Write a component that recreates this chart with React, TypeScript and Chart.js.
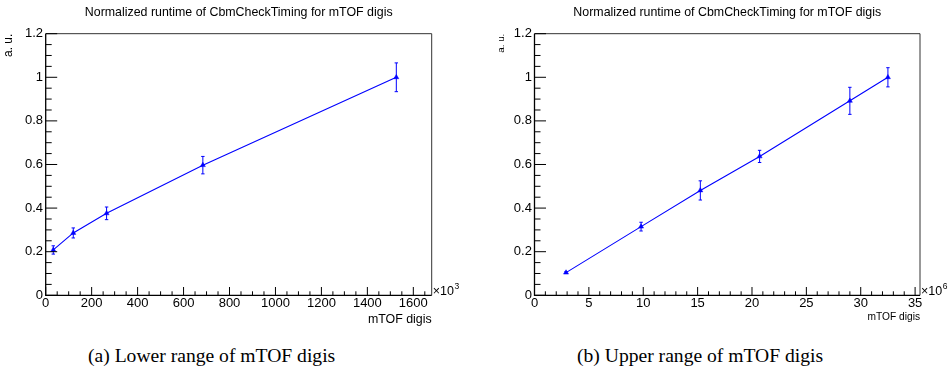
import React, { useEffect, useRef } from "react";
import { Chart, registerables } from "chart.js";

Chart.register(...registerables);

// ---------- data ----------
const TITLE = "Normalized runtime of CbmCheckTiming for mTOF digis";
const Y_TITLE = "a. u.";
const X_TITLE = "mTOF digis";
const CAPTION_A = "(a) Lower range of mTOF digis";
const CAPTION_B = "(b) Upper range of mTOF digis";

const lowerX = [33, 120, 265, 684, 1526];
const lowerY = [0.208, 0.286, 0.376, 0.597, 1.0];
const lowerErr = [0.019, 0.023, 0.029, 0.04, 0.066];

const upperX = [2.9, 9.8, 15.25, 20.7, 29.0, 32.5];
const upperY = [0.104, 0.315, 0.481, 0.637, 0.892, 1.0];
const upperErr = [0.004, 0.02, 0.044, 0.028, 0.062, 0.044];

const yTicks = [0, 0.2, 0.4, 0.6, 0.8, 1, 1.2];
const lowerXTicks = [0, 200, 400, 600, 800, 1000, 1200, 1400, 1600];
const upperXTicks = [0, 5, 10, 15, 20, 25, 30, 35];

const BLUE = "#0000ff";
const SANS = "'Liberation Sans', Arial, Helvetica, sans-serif";
const TICK_SIZE = 13;

// ---------- ROOT-like frame / ticks / error bars plugin ----------
const rootPlugin = {
  id: "rootFrame",
  afterDatasetsDraw(chart: any, _args: any, opts: any) {
    const { ctx } = chart;
    const x = chart.scales.x;
    const y = chart.scales.y;
    ctx.save();
    ctx.strokeStyle = BLUE;
    ctx.lineWidth = 1;
    const xs: number[] = opts.xs;
    const ys: number[] = opts.ys;
    const es: number[] = opts.es;
    for (let i = 0; i < xs.length; i++) {
      const px = x.getPixelForValue(xs[i]);
      const p1 = y.getPixelForValue(ys[i] + es[i]);
      const p2 = y.getPixelForValue(ys[i] - es[i]);
      ctx.beginPath();
      ctx.moveTo(px, p1);
      ctx.lineTo(px, p2);
      ctx.moveTo(px - 1.7, p1);
      ctx.lineTo(px + 1.7, p1);
      ctx.moveTo(px - 1.7, p2);
      ctx.lineTo(px + 1.7, p2);
      ctx.stroke();
    }
    ctx.restore();
  },
  afterDraw(chart: any, _args: any, opts: any) {
    const { ctx, chartArea: a } = chart;
    const x = chart.scales.x;
    const y = chart.scales.y;
    ctx.save();
    // frame
    ctx.strokeStyle = "#333";
    ctx.lineWidth = 1;
    ctx.beginPath();
    ctx.moveTo(a.left, a.top);
    ctx.lineTo(a.right, a.top);
    ctx.lineTo(a.right, a.bottom);
    ctx.stroke();
    ctx.strokeStyle = "#000";
    ctx.lineWidth = 1.3;
    ctx.beginPath();
    ctx.moveTo(a.left, a.top);
    ctx.lineTo(a.left, a.bottom);
    ctx.lineTo(a.right, a.bottom);
    ctx.stroke();

    ctx.lineWidth = 1;
    ctx.beginPath();
    // y ticks
    const ny = Math.round((y.max - y.min) / opts.yMinor);
    for (let i = 0; i <= ny; i++) {
      const v = y.min + i * opts.yMinor;
      const r = v / opts.yMajor;
      const major = Math.abs(r - Math.round(r)) < 1e-6;
      const py = y.getPixelForValue(v);
      ctx.moveTo(a.left, py);
      ctx.lineTo(a.left + (major ? 11.5 : 6), py);
    }
    // x ticks
    const nx = Math.floor((x.max - x.min) / opts.xMinor + 1e-9);
    for (let i = 0; i <= nx; i++) {
      const v = x.min + i * opts.xMinor;
      const r = v / opts.xMajor;
      const major = Math.abs(r - Math.round(r)) < 1e-6;
      const px = x.getPixelForValue(v);
      ctx.moveTo(px, a.bottom);
      ctx.lineTo(px, a.bottom - (major ? 8.3 : 4));
    }
    ctx.stroke();

    // multiplier label
    ctx.fillStyle = "#000";
    ctx.textBaseline = "alphabetic";
    ctx.textAlign = "left";
    ctx.font = `12.5px ${SANS}`;
    const base = "\u00d710";
    const lx = a.right + 1;
    ctx.fillText(base, lx, a.bottom);
    const w = ctx.measureText(base).width;
    ctx.font = `8.5px ${SANS}`;
    ctx.fillText(opts.exp, lx + w + 0.5, a.bottom - 6);
    ctx.restore();
  },
};

type Spec = {
  xs: number[];
  ys: number[];
  es: number[];
  xTicks: number[];
  xMax: number;
  xMinor: number;
  xMajor: number;
  exp: string;
  yAxisWidth: number;
  padRight: number;
  xTitleSize: number;
  xTitlePadBottom: number;
  yTitleSize: number;
  yTitlePadTop: number;
};

function makeConfig(s: Spec): any {
  return {
    type: "line",
    data: {
      datasets: [
        {
          data: s.xs.map((v, i) => ({ x: v, y: s.ys[i] })),
          borderColor: BLUE,
          borderWidth: 1.1,
          backgroundColor: BLUE,
          pointStyle: "triangle",
          pointRadius: 2.9,
          pointBorderWidth: 0.5,
          pointBackgroundColor: BLUE,
          pointBorderColor: BLUE,
          tension: 0,
          fill: false,
        },
      ],
    },
    options: {
      responsive: false,
      animation: false,
      devicePixelRatio: 1,
      layout: { padding: { left: 0, right: s.padRight, top: 0, bottom: 0 } },
      plugins: {
        legend: { display: false },
        tooltip: { enabled: false },
        title: {
          display: true,
          text: TITLE,
          fullSize: false,
          color: "#000",
          font: { family: SANS, size: 12.4, weight: "normal" },
          padding: { top: 5.5, bottom: 13.3 },
        },
        rootFrame: {
          xs: s.xs,
          ys: s.ys,
          es: s.es,
          yMinor: 0.05,
          yMajor: 0.2,
          xMinor: s.xMinor,
          xMajor: s.xMajor,
          exp: s.exp,
        },
      },
      scales: {
        x: {
          type: "linear",
          min: 0,
          max: s.xMax,
          grid: { display: false, drawTicks: false },
          border: { display: false },
          afterBuildTicks: (sc: any) => {
            sc.ticks = s.xTicks.map((v) => ({ value: v }));
          },
          afterFit: (sc: any) => {
            sc.height = 34.7;
          },
          ticks: {
            autoSkip: false,
            maxRotation: 0,
            padding: 0.7,
            color: "#000",
            font: { family: SANS, size: TICK_SIZE },
            callback: (v: any) => String(v),
          },
          title: {
            display: true,
            text: X_TITLE,
            align: "end",
            color: "#000",
            font: { family: SANS, size: s.xTitleSize },
            padding: { top: 0, bottom: s.xTitlePadBottom },
          },
        },
        y: {
          type: "linear",
          min: 0,
          max: 1.2,
          grid: { display: false, drawTicks: false },
          border: { display: false },
          afterBuildTicks: (sc: any) => {
            sc.ticks = yTicks.map((v) => ({ value: v }));
          },
          afterFit: (sc: any) => {
            sc.width = s.yAxisWidth;
          },
          ticks: {
            autoSkip: false,
            padding: 2.6,
            color: "#000",
            font: { family: SANS, size: TICK_SIZE },
            callback: (v: any) => String(v),
          },
          title: {
            display: true,
            text: Y_TITLE,
            align: "end",
            color: "#000",
            font: { family: SANS, size: s.yTitleSize },
            padding: { top: s.yTitlePadTop, bottom: 0 },
          },
        },
      },
    },
    plugins: [rootPlugin],
  };
}

const lowerSpec: Spec = {
  xs: lowerX,
  ys: lowerY,
  es: lowerErr,
  xTicks: lowerXTicks,
  xMax: 1680,
  xMinor: 50,
  xMajor: 200,
  exp: "3",
  yAxisWidth: 45.7,
  padRight: 43.3,
  xTitleSize: 12.4,
  xTitlePadBottom: 3.4,
  yTitleSize: 12,
  yTitlePadTop: 1.9,
};

const upperSpec: Spec = {
  xs: upperX,
  ys: upperY,
  es: upperErr,
  xTicks: upperXTicks,
  xMax: 35.45,
  xMinor: 1,
  xMajor: 5,
  exp: "6",
  yAxisWidth: 59.5,
  padRight: 30,
  xTitleSize: 10.2,
  xTitlePadBottom: 7.1,
  yTitleSize: 9.8,
  yTitlePadTop: 20,
};

function RootChart({ spec }: { spec: Spec }) {
  const ref = useRef<HTMLCanvasElement | null>(null);
  useEffect(() => {
    if (!ref.current) return;
    const chart = new Chart(ref.current, makeConfig(spec));
    return () => chart.destroy();
  }, [spec]);
  return <canvas ref={ref} width={475} height={330} style={{ display: "block", width: 475, height: 330 }} />;
}

const captionStyle: React.CSSProperties = {
  position: "absolute",
  top: 345.5,
  fontFamily: "'Liberation Serif', 'Times New Roman', serif",
  fontSize: 19.6,
  lineHeight: "19.6px",
  whiteSpace: "nowrap",
  color: "#000",
};

export default function App() {
  return (
    <div style={{ position: "absolute", left: 0, top: 0, width: 950, height: 371, background: "#fff", overflow: "hidden" }}>
      <div style={{ position: "absolute", left: 0, top: 0 }}>
        <RootChart spec={lowerSpec} />
      </div>
      <div style={{ position: "absolute", left: 475, top: 0 }}>
        <RootChart spec={upperSpec} />
      </div>
      <div style={{ ...captionStyle, left: 88 }}>{CAPTION_A}</div>
      <div style={{ ...captionStyle, left: 577 }}>{CAPTION_B}</div>
    </div>
  );
}
